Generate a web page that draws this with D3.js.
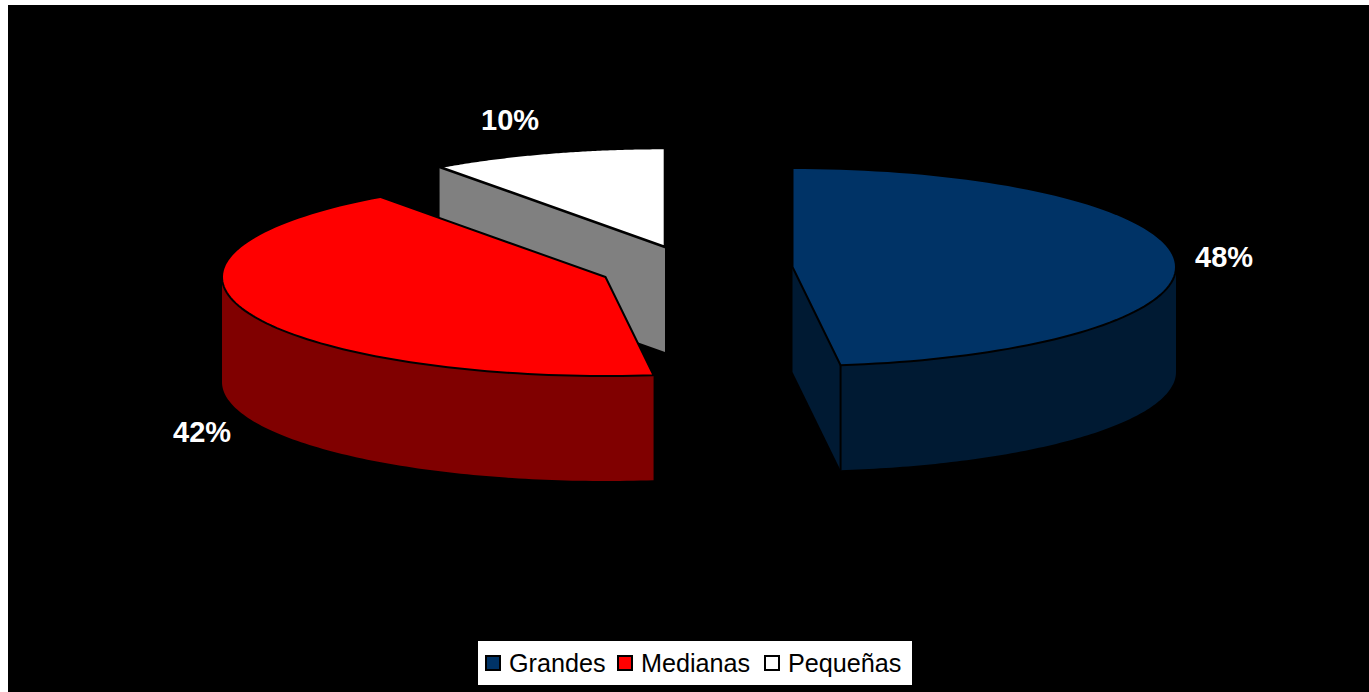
<!DOCTYPE html>
<html><head><meta charset="utf-8">
<script src="https://cdnjs.cloudflare.com/ajax/libs/d3/7.8.5/d3.min.js"></script>
<style>html,body{margin:0;padding:0;background:#fff;overflow:hidden}svg{display:block}</style>
</head><body>
<svg id="c" width="1369" height="692"></svg>
<script>
const categories = ["Grandes", "Medianas", "Pequeñas"];
const shares = [48, 42, 10];
const labels = ["48%", "42%", "10%"];
const topColors = ["#003366", "#ff0000", "#ffffff"];
const sideColors = ["#001a33", "#800000", "#808080"];
const centerX = [792.5, 605.5, 665];
const centerY = [267, 277, 247];
const labelX = [1195, 173, 481];
const labelY = [267, 442, 130];
const legendSwatchX = [486, 618, 765];
const legendTextX = [509, 641, 788];

const rx = 383.5, ry = 99, depth = 105;
const svg = d3.select("#c");
svg.append("rect").attr("x", 8).attr("y", 5).attr("width", 1361).attr("height", 687).attr("fill", "#000");

const pie = d3.pie().sort(null).value(d => d).startAngle(0).endAngle(2 * Math.PI);
const arcs = pie(shares);
const sx = d3.scaleLinear().domain([-1, 1]).range([-rx, rx]);
const sy = d3.scaleLinear().domain([-1, 1]).range([-ry, ry]);
const px = (i, a) => centerX[i] + sx(Math.sin(a));
const py = (i, a) => centerY[i] + sy(-Math.cos(a));
const line = d3.line();
const arcPts = (i, a0, a1, dy) => d3.range(0, 97).map(k => {
  const a = a0 + (a1 - a0) * k / 96;
  return [px(i, a), py(i, a) + dy];
});

// draw back to front: small slice, red, blue
[2, 1, 0].forEach(i => {
  const d = arcs[i], g = svg.append("g");
  const a0 = d.startAngle, a1 = d.endAngle;
  const c = [centerX[i], centerY[i]];
  // radial cut face
  if (i === 0) {
    g.append("path").attr("d", line([c, [px(i, a1), py(i, a1)], [px(i, a1), py(i, a1) + depth], [c[0], c[1] + depth]]) + "Z")
      .attr("fill", sideColors[i]);
  }
  if (i === 2) {
    g.append("path").attr("d", line([c, [px(i, a0), py(i, a0)], [px(i, a0), py(i, a0) + depth], [c[0], c[1] + depth]]) + "Z")
      .attr("fill", sideColors[i]);
  }
  // outer wall, front half only
  const w0 = Math.max(a0, Math.PI / 2), w1 = Math.min(a1, 3 * Math.PI / 2);
  if (w1 > w0) {
    const pts = arcPts(i, w0, w1, 0).concat(arcPts(i, w1, w0, depth));
    g.append("path").attr("d", line(pts) + "Z").attr("fill", sideColors[i]);
  }
  // top face
  g.append("path").attr("d", line([c].concat(arcPts(i, a0, a1, 0))) + "Z")
    .attr("fill", topColors[i]).attr("stroke", "#000").attr("stroke-width", i === 2 ? 2.6 : 2).attr("stroke-linejoin", "round");
  if (i === 0) {
    g.append("line").attr("x1", px(i, a1)).attr("x2", px(i, a1))
      .attr("y1", py(i, a1)).attr("y2", py(i, a1) + depth)
      .attr("stroke", "#000").attr("stroke-width", 2);
  }
  svg.append("text").attr("x", labelX[i]).attr("y", labelY[i]).text(labels[i])
    .attr("fill", "#fff").attr("font-family", "'Liberation Sans',Arial,sans-serif")
    .attr("font-weight", "bold").attr("font-size", 29);
});

// legend
svg.append("rect").attr("x", 478).attr("y", 641).attr("width", 434).attr("height", 44).attr("fill", "#fff");
categories.forEach((name, i) => {
  svg.append("rect").attr("x", legendSwatchX[i]).attr("y", 656).attr("width", 14).attr("height", 14)
    .attr("fill", topColors[i]).attr("stroke", "#000").attr("stroke-width", 2);
  svg.append("text").attr("x", legendTextX[i]).attr("y", 672).text(name)
    .attr("fill", "#000").attr("font-family", "'Liberation Sans',Arial,sans-serif").attr("font-size", 25.2);
});
</script>
</body></html>
